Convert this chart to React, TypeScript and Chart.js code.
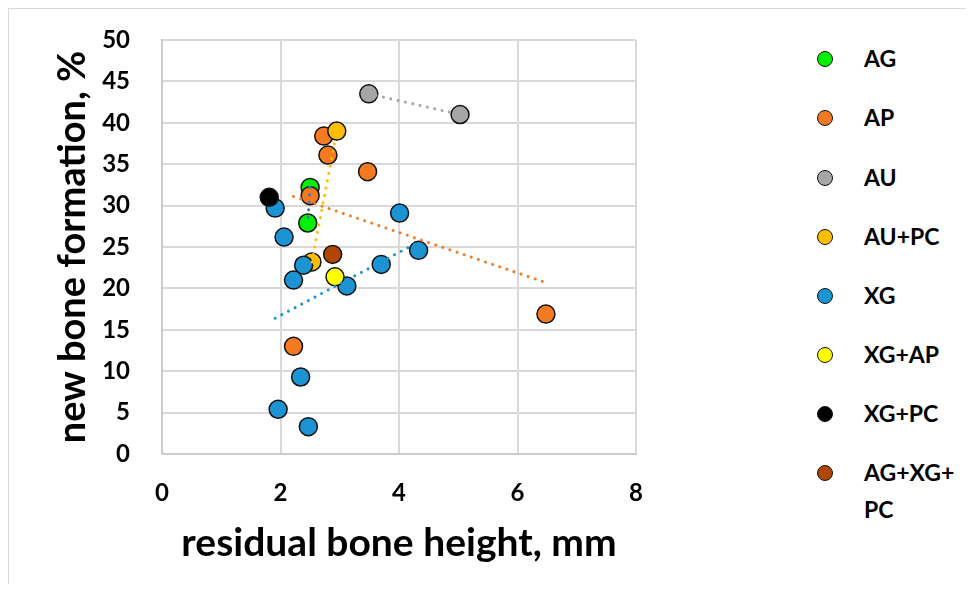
import React, { useEffect, useRef } from "react";
import { Chart, registerables } from "chart.js";

Chart.register(...registerables);

// ---- data ----
const seriesNames = ["AG", "AP", "AU", "AU+PC", "XG", "XG+AP", "XG+PC", "AG+XG+PC"];
const legendLabels = ["AG", "AP", "AU", "AU+PC", "XG", "XG+AP", "XG+PC", "AG+XG+\nPC"];
const seriesColors = ["#00f000", "#f47a22", "#a6a6a6", "#ffbf00", "#1c94d4", "#ffff00", "#000000", "#b04600"];

const agX = [2.5, 2.46];
const agY = [32.2, 27.9];
const apX = [2.73, 2.8, 3.47, 2.5, 2.22, 6.48];
const apY = [38.4, 36.1, 34.1, 31.2, 13.0, 16.9];
const auX = [3.49, 5.03];
const auY = [43.5, 41.0];
const aupcX = [2.95, 2.53];
const aupcY = [39.0, 23.2];
const xgX = [1.91, 4.01, 2.06, 2.39, 2.22, 3.12, 3.7, 4.33, 2.34, 1.96, 2.47];
const xgY = [29.7, 29.1, 26.2, 22.8, 21.0, 20.3, 22.9, 24.6, 9.3, 5.4, 3.3];
const xgapX = [2.92];
const xgapY = [21.4];
const xgpcX = [1.81];
const xgpcY = [31.0];
const agxgpcX = [2.88];
const agxgpcY = [24.1];

// trendline end points
const trendNames = ["AG trend", "AP trend", "AU trend", "AU+PC trend", "XG trend"];
const trendColors = ["#4472c4", "#f47a22", "#a6a6a6", "#ffbf00", "#1c94d4"];
const trendX = [
  [2.5, 2.46],
  [2.22, 6.48],
  [3.49, 5.03],
  [2.53, 2.95],
  [1.91, 4.33],
];
const trendY = [
  [32.2, 27.9],
  [31.1, 20.7],
  [43.5, 41.0],
  [23.2, 39.0],
  [16.4, 25.6],
];

const xTicks = [0, 2, 4, 6, 8];
const yTicks = [0, 5, 10, 15, 20, 25, 30, 35, 40, 45, 50];

const xTitle = "residual bone height, mm";
const yTitle = "new bone formation, %";

const seriesXs = [agX, apX, auX, aupcX, xgX, xgapX, xgpcX, agxgpcX];
const seriesYs = [agY, apY, auY, aupcY, xgY, xgapY, xgpcY, agxgpcY];

const FONT = "Lato, 'Open Sans', sans-serif";

export default function App() {
  const canvasRef = useRef<HTMLCanvasElement | null>(null);

  useEffect(() => {
    if (!canvasRef.current) return;
    const pointSets = seriesNames.map((name, i) => ({
      type: "scatter" as const,
      label: name,
      data: seriesXs[i].map((x, j) => ({ x, y: seriesYs[i][j] })),
      backgroundColor: seriesColors[i],
      borderColor: "#111111",
      borderWidth: 1.5,
      pointRadius: 9,
      pointHoverRadius: 9,
      order: 100 - i,
    }));
    const trendSets = trendNames.map((name, i) => ({
      type: "line" as const,
      label: name,
      data: trendX[i].map((x, j) => ({ x, y: trendY[i][j] })),
      borderColor: trendColors[i],
      backgroundColor: trendColors[i],
      borderWidth: 3,
      borderDash: [0.01, 7.5],
      borderCapStyle: "round" as const,
      pointRadius: 0,
      fill: false,
      order: 0,
    }));

    const chart = new Chart(canvasRef.current, {
      type: "scatter",
      data: { datasets: [...trendSets, ...pointSets] as any },
      options: {
        animation: false,
        responsive: true,
        maintainAspectRatio: false,
        layout: { padding: { top: 31, right: 33, left: 0, bottom: 0 } },
        plugins: {
          legend: { display: false },
          tooltip: { enabled: false },
        },
        scales: {
          x: {
            type: "linear",
            min: 0,
            max: 8,
            afterBuildTicks: (s: any) => {
              s.ticks = xTicks.map((v) => ({ value: v }));
            },
            afterFit: (s: any) => {
              s.height = 130;
            },
            ticks: {
              color: "#000",
              padding: 25,
              font: { family: FONT, size: 24, weight: "bold" },
            },
            grid: { color: "#d9d9d9", lineWidth: 2, drawTicks: false },
            border: { color: "#cccccc", width: 2 },
            title: {
              display: true,
              text: xTitle,
              color: "#000",
              font: { family: FONT, size: 39, weight: "bold" },
              padding: { top: 0, bottom: 17 },
            },
          },
          y: {
            type: "linear",
            min: 0,
            max: 50,
            afterBuildTicks: (s: any) => {
              s.ticks = yTicks.map((v) => ({ value: v }));
            },
            afterFit: (s: any) => {
              s.width = 153;
              s.paddingTop = 14;
              s.paddingBottom = 14;
            },
            ticks: {
              color: "#000",
              padding: 32,
              font: { family: FONT, size: 24, weight: "bold" },
            },
            grid: { color: "#d9d9d9", lineWidth: 2, drawTicks: false },
            border: { color: "#cccccc", width: 2 },
            title: {
              display: true,
              text: yTitle,
              color: "#000",
              font: { family: FONT, size: 38, weight: "bold" },
              padding: { top: 41, bottom: 0 },
            },
          },
        },
      },
    });
    return () => chart.destroy();
  }, []);

  const rowTop = 50.3;
  const rowGap = 59.1;

  return (
    <div
      style={{
        position: "relative",
        width: 958,
        height: 576,
        boxSizing: "border-box",
        borderTop: "1px solid #d9d9d9",
        borderLeft: "1px solid #d9d9d9",
        background: "#fff",
        overflow: "hidden",
      }}
    >
      <div style={{ position: "absolute", left: 0, top: 0, width: 660, height: 575 }}>
        <canvas ref={canvasRef} />
      </div>
      {legendLabels.map((lab, i) => {
        const cy = rowTop + i * rowGap;
        return (
          <React.Fragment key={lab}>
            <div
              style={{
                position: "absolute",
                left: 816 - 8,
                top: cy - 8,
                width: 16,
                height: 16,
                boxSizing: "border-box",
                borderRadius: "50%",
                background: seriesColors[i],
                border: "1.5px solid #111",
              }}
            />
            <div
              style={{
                position: "absolute",
                left: 855,
                top: cy - 19,
                fontFamily: FONT,
                fontWeight: 700,
                fontSize: 23,
                lineHeight: "37px",
                color: "#000",
                whiteSpace: "pre",
              }}
            >
              {lab}
            </div>
          </React.Fragment>
        );
      })}
    </div>
  );
}
